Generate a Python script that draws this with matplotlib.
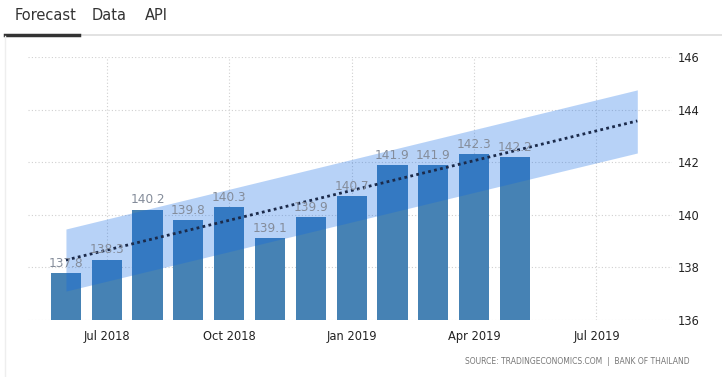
import numpy as np
import matplotlib.pyplot as plt
from matplotlib.lines import Line2D

# monthly values, Jun 2018 .. May 2019
months = ['Jun 2018', 'Jul 2018', 'Aug 2018', 'Sep 2018', 'Oct 2018', 'Nov 2018',
          'Dec 2018', 'Jan 2019', 'Feb 2019', 'Mar 2019', 'Apr 2019', 'May 2019']
values = [137.8, 138.3, 140.2, 139.8, 140.3, 139.1,
          139.9, 140.7, 141.9, 141.9, 142.3, 142.2]

# forecast trend + band (month index 0 = Jun 2018, 14 = Aug 2019)
trend_x = [0, 14]
trend_y = [138.28, 143.57]
band_hi = [139.46, 144.75]
band_lo = [137.10, 142.35]

tick_pos = [1, 4, 7, 10, 13]
tick_labels = ['Jul 2018', 'Oct 2018', 'Jan 2019', 'Apr 2019', 'Jul 2019']
y_ticks = [136, 138, 140, 142, 144, 146]

W, H = 722, 377
fig = plt.figure(figsize=(W / 100, H / 100), dpi=100)
ax = fig.add_axes([28 / W, 1 - 320 / H, (672 - 28) / W, 263 / H])

x = np.arange(len(values))
ax.bar(x, np.array(values) - 136, bottom=136, width=0.74, color='#4682b4', zorder=2)

ax.fill_between(trend_x, band_lo, band_hi, color='#0a66e6', alpha=0.29, lw=0, zorder=3)
ax.plot(trend_x, trend_y, color='#1b2a4a', lw=2, ls=(0, (1, 1.2)), zorder=4)

for xi, v in zip(x, values):
    ax.text(xi, v + 0.12, f'{v:.1f}', ha='center', va='bottom', fontsize=8.7,
            color='#848c9a', zorder=5)

ax.set_xlim(-0.93, 14.85)
ax.set_ylim(136, 146)
ax.set_xticks(tick_pos)
ax.set_xticklabels(tick_labels)
ax.set_yticks(y_ticks)
ax.yaxis.tick_right()
ax.tick_params(axis='both', length=0, labelsize=8.3, colors='#222222')
ax.tick_params(axis='x', pad=7)
ax.tick_params(axis='y', pad=4)
ax.grid(True, color='#d0d0d0', ls=(0, (1, 2)), lw=0.8, zorder=0)
for s in ax.spines.values():
    s.set_visible(False)

# tabs header
fig.text(15 / W, 1 - 16 / H, 'Forecast', fontsize=10.5, color='#333333', va='center')
fig.text(92 / W, 1 - 16 / H, 'Data', fontsize=10.5, color='#333333', va='center')
fig.text(145 / W, 1 - 16 / H, 'API', fontsize=10.5, color='#333333', va='center')
fig.add_artist(Line2D([5 / W, 1], [1 - 35 / H] * 2, color='#dddddd', lw=1.2))
fig.add_artist(Line2D([5 / W, 79 / W], [1 - 35 / H] * 2, color='#333333', lw=2.5))
fig.add_artist(Line2D([5 / W] * 2, [0, 1 - 36 / H], color='#eeeeee', lw=1))

fig.text(690 / W, 1 - 362 / H, 'SOURCE: TRADINGECONOMICS.COM  |  BANK OF THAILAND',
         fontsize=5.5, color='#777777', ha='right', va='center')

fig.savefig('out.png', dpi=100)
